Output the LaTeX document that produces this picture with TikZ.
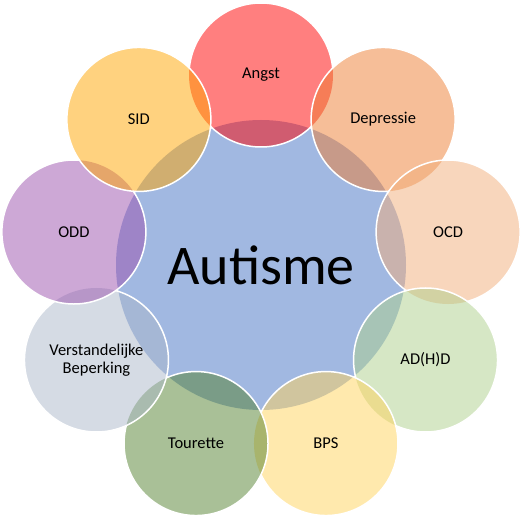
\documentclass[tikz,border=0pt]{standalone}
\usepackage{fontspec}
\setmainfont{Carlito}

\definecolor{coreblue}{HTML}{4472C4}
\definecolor{angstred}{HTML}{FF0000}
\definecolor{deprorange}{HTML}{ED7D31}
\definecolor{ocdpeach}{HTML}{F1AD79}
\definecolor{adhdgreen}{HTML}{ADCF8B}
\definecolor{bpsgold}{HTML}{FFD35B}
\definecolor{tourgreen}{HTML}{53812F}
\definecolor{verstgrey}{HTML}{ABB7C9}
\definecolor{oddpurple}{HTML}{9B51AD}
\definecolor{sidorange}{HTML}{FFA500}

\tikzset{
  core/.style={circle,minimum size=290pt,inner sep=0pt,fill=coreblue,fill opacity=.5,text opacity=1,font=\fontsize{56}{60}\selectfont},
  petal/.style={circle,minimum size=144pt,inner sep=0pt,fill opacity=.5,text opacity=1,align=center,font=\fontsize{16.5}{18}\selectfont},
  rim/.style={draw=white,line width=1.5pt},
  hole/.style={insert path={(0,0) -- (0,520) -- (525,520) -- (525,0) -- cycle}}
}

\begin{document}
\begin{tikzpicture}[x=1pt,y=1pt]
  \useasboundingbox (0,0) rectangle (525,520);
  % centre and the nine petals, clockwise from the top
  \node[core] (autisme) at (261,255) {Autisme};
  \node[petal,fill=angstred] (angst) at ([shift={(90:190pt)}]autisme.center) {Angst};
  \node[petal,fill=deprorange] (depressie) at ([shift={(50:190pt)}]autisme.center) {Depressie};
  \node[petal,fill=ocdpeach] (ocd) at ([shift={(10:190pt)}]autisme.center) {OCD};
  \node[petal,fill=adhdgreen] (adhd) at ([shift={(-30:190pt)}]autisme.center) {AD(H)D};
  \node[petal,fill=bpsgold] (bps) at ([shift={(-70:190pt)}]autisme.center) {BPS};
  \node[petal,fill=tourgreen] (tourette) at ([shift={(-110:190pt)}]autisme.center) {Tourette};
  \node[petal,fill=verstgrey] (verst) at ([shift={(-150:190pt)}]autisme.center) {Verstandelijke\\Beperking};
  \node[petal,fill=oddpurple] (odd) at ([shift={(170:190pt)}]autisme.center) {ODD};
  \node[petal,fill=sidorange] (sid) at ([shift={(130:190pt)}]autisme.center) {SID};

  % white rims, hidden under the petal drawn next
  \begin{scope}
    \clip[hole] (depressie.center) circle[radius=72pt];
    \clip[hole] (sid.center) circle[radius=72pt];
    \draw[rim] (angst.center) circle[radius=72pt];
  \end{scope}
  \begin{scope}
    \clip[hole] (ocd.center) circle[radius=72pt];
    \draw[rim] (depressie.center) circle[radius=72pt];
  \end{scope}
  \begin{scope}
    \clip[hole] (adhd.center) circle[radius=72pt];
    \draw[rim] (ocd.center) circle[radius=72pt];
  \end{scope}
  \begin{scope}
    \clip[hole] (bps.center) circle[radius=72pt];
    \draw[rim] (adhd.center) circle[radius=72pt];
  \end{scope}
  \begin{scope}
    \clip[hole] (tourette.center) circle[radius=72pt];
    \draw[rim] (bps.center) circle[radius=72pt];
  \end{scope}
  \begin{scope}
    \clip[hole] (verst.center) circle[radius=72pt];
    \draw[rim] (tourette.center) circle[radius=72pt];
  \end{scope}
  \begin{scope}
    \clip[hole] (odd.center) circle[radius=72pt];
    \draw[rim] (verst.center) circle[radius=72pt];
  \end{scope}
  \begin{scope}
    \clip[hole] (sid.center) circle[radius=72pt];
    \draw[rim] (odd.center) circle[radius=72pt];
  \end{scope}
  \draw[rim] (sid.center) circle[radius=72pt];
\end{tikzpicture}
\end{document}
